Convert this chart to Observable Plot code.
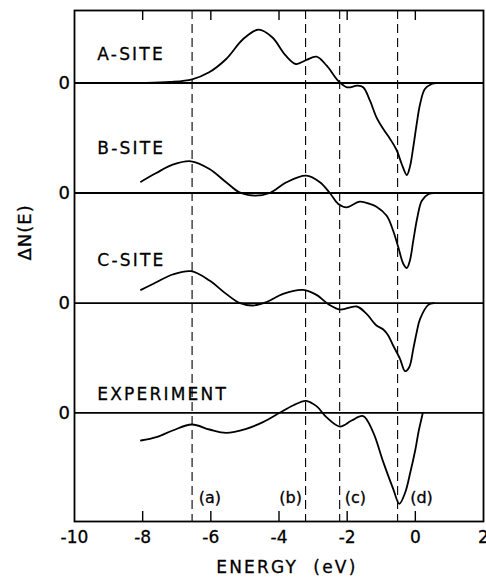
<!DOCTYPE html>
<html><head><meta charset="utf-8">
<script src="https://cdn.jsdelivr.net/npm/d3@7"></script>
<script src="https://cdn.jsdelivr.net/npm/@observablehq/plot@0.6"></script>
<style>
html,body{margin:0;padding:0;background:#fff;}
</style>
</head><body><div id="chart"></div>
<script>
// ---------- data ----------
const xTicks = [-10, -8, -6, -4, -2, 0, 2];
const innerTicks = [-8, -6, -4, -2, 0];
const featureEnergies = [-6.55, -3.22, -2.22, -0.52];
const featureLabels = ["(a)", "(b)", "(c)", "(d)"];
const seriesNames = ["A-SITE", "B-SITE", "C-SITE", "EXPERIMENT"];

const energyA = [-7.9, -7.2, -6.55, -6.05, -5.55, -5.05, -4.6, -4.2, -3.8, -3.5, -3.2, -2.9, -2.6, -2.25, -2.0, -1.7, -1.53, -1.33, -1.14, -0.94, -0.74, -0.55, -0.4, -0.25, -0.16, -0.06, 0.04, 0.14, 0.28, 0.48, 0.63];
const dnA     = [0, 0.1, 0.37, 1.07, 2.4, 4.4, 5.33, 4.57, 2.73, 1.9, 2.3, 2.63, 1.73, 0.17, -0.43, -0.27, -0.43, -1.77, -3.43, -4.6, -5.6, -6.7, -8.1, -9.2, -8.4, -6.4, -4.1, -2.1, -0.6, -0.1, 0];

const energyB = [-8.05, -7.6, -7.12, -6.58, -6.04, -5.55, -5.16, -4.71, -4.27, -3.78, -3.2, -2.8, -2.51, -2.26, -2.02, -1.63, -1.33, -1.14, -0.84, -0.65, -0.5, -0.35, -0.25, -0.16, -0.06, 0.06, 0.19, 0.39, 0.55];
const dnB     = [1.13, 2.0, 2.83, 3.17, 2.4, 1.07, 0.07, -0.27, 0, 1.07, 1.73, 1.07, 0, -1.1, -1.43, -0.87, -1.1, -1.37, -2.27, -3.77, -5.43, -7.1, -7.5, -6.77, -4.77, -2.43, -0.77, -0.1, 0];

const energyC = [-8.05, -7.6, -7.12, -6.58, -6.04, -5.55, -5.16, -4.77, -4.37, -3.88, -3.29, -2.9, -2.56, -2.21, -1.72, -1.43, -1.14, -0.94, -0.8, -0.65, -0.45, -0.3, -0.18, -0.06, 0.04, 0.14, 0.38, 0.55];
const dnC     = [1.33, 2.1, 2.87, 3.2, 2.27, 0.93, 0.03, -0.23, 0.1, 0.93, 1.33, 0.83, -0.07, -0.63, -0.33, -1.07, -2.23, -2.63, -3.2, -4.23, -5.57, -6.8, -6.4, -4.57, -2.9, -1.57, -0.17, 0];

const energyExp = [-8.05, -7.6, -7.12, -6.56, -6.04, -5.55, -4.96, -4.47, -3.98, -3.59, -3.21, -2.9, -2.61, -2.21, -1.87, -1.53, -1.24, -0.94, -0.65, -0.47, -0.3, -0.15, 0.0, 0.1, 0.2, 0.22];
const dnExp     = [-2.77, -2.43, -1.77, -1.17, -1.67, -2.0, -1.6, -0.93, 0, 0.73, 1.2, 0.67, -0.43, -1.37, -0.77, -0.33, -1.93, -4.93, -7.6, -9.1, -8.0, -6.0, -3.7, -1.8, -0.3, 0];

// ---------- layout ----------
const baselineOffsets = [43.85, 32.85, 21.83, 10.87];
const nameLift = [2.88, 4.45, 4.24, 1.83];
const nameEnergy = -9.33;
const featureLabelEnergies = [-6.03, -3.66, -1.76, 0.18];
const featureLabelY = 2.4;
const xTitle = "ENERGY\u00a0\u00a0(eV)";

const curves = [[energyA, dnA], [energyB, dnB], [energyC, dnC], [energyExp, dnExp]];
const rows = [];
curves.forEach(([es, vs], k) => {
  es.forEach((e, i) => rows.push({series: seriesNames[k], e, v: vs[i], base: baselineOffsets[k]}));
});

const font = "'DejaVu Sans', sans-serif";
const chart = Plot.plot({
  width: 486,
  height: 584,
  marginLeft: 74,
  marginRight: 3,
  marginTop: 10,
  marginBottom: 63,
  style: {fontFamily: font, fontSize: "17px", background: "#fff", color: "#000", overflow: "visible"},
  x: {domain: [-10, 2], ticks: xTicks, tickSize: 0, tickPadding: 9, tickFormat: d => String(d), label: null},
  y: {domain: [0, 51.1], axis: null},
  marks: [
    Plot.ruleY(baselineOffsets, {y: d => d, stroke: "#000", strokeWidth: 1.8}),
    Plot.ruleX(featureEnergies, {x: d => d, stroke: "#000", strokeWidth: 1.1, strokeDasharray: "9,5"}),
    Plot.line(rows, {x: "e", y: d => d.base + d.v, z: "series", curve: "catmull-rom", stroke: "#000", strokeWidth: 1.8}),
    Plot.ruleX(innerTicks, {x: d => d, y1: 0, y2: 1, stroke: "#000", strokeWidth: 1.4}),
    Plot.ruleX(innerTicks, {x: d => d, y1: 50.1, y2: 51.1, stroke: "#000", strokeWidth: 1.4}),
    Plot.frame({stroke: "#000", strokeWidth: 1.8}),
    Plot.text(baselineOffsets, {y: d => d, frameAnchor: "left", dx: -16, text: () => "0", fontSize: 18}),
    Plot.text(seriesNames, {x: nameEnergy, y: (d, i) => baselineOffsets[i] + nameLift[i], text: d => d, textAnchor: "start", fontSize: 17}),
    Plot.text(featureLabels, {x: (d, i) => featureLabelEnergies[i], y: featureLabelY, text: d => d, fontSize: 16}),
    Plot.text(["ΔN(E)"], {frameAnchor: "left", y: 26.1, dx: -49, rotate: -90, text: d => d, fontSize: 18}),
    Plot.text([xTitle], {frameAnchor: "bottom", x: -3.77, dy: 51, text: d => d, fontSize: 17})
  ]
});
document.getElementById("chart").appendChild(chart);
const svg = d3.select(chart);
svg.selectAll("text").attr("stroke", "#000").attr("stroke-width", 0.3);
svg.selectAll("text")
  .filter(function() { return seriesNames.includes(this.textContent) || this.textContent === xTitle; })
  .attr("letter-spacing", "2.2px");
svg.selectAll("text")
  .filter(function() { return this.textContent === "ΔN(E)"; })
  .attr("letter-spacing", "1px");
</script>
</body></html>
